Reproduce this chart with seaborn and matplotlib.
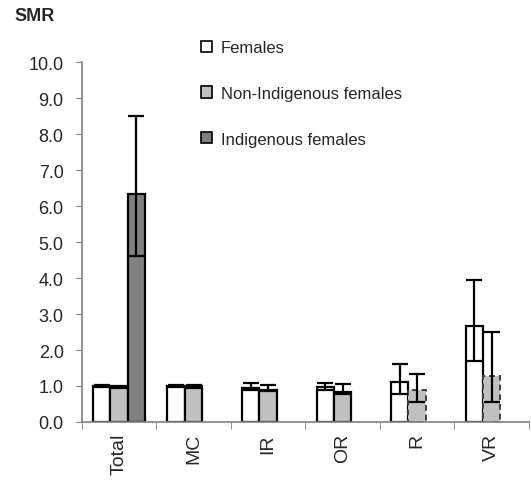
import numpy as np
import pandas as pd
import seaborn as sns
import matplotlib.pyplot as plt
from matplotlib.patches import Patch
from matplotlib.ticker import FixedLocator
from matplotlib.container import BarContainer

# data
cats = ['Total', 'MC', 'IR', 'OR', 'R', 'VR']
groups = ['Females', 'Non-Indigenous females', 'Indigenous females']

females = [1.00, 1.00, 0.94, 0.96, 1.12, 2.67]
fem_lo = [0.96, 0.96, 0.90, 0.90, 0.78, 1.70]
fem_hi = [1.04, 1.04, 1.07, 1.09, 1.61, 3.95]

nonind = [0.98, 0.99, 0.90, 0.84, 0.89, 1.27]
non_lo = [0.95, 0.95, 0.86, 0.78, 0.56, 0.56]
non_hi = [1.01, 1.03, 1.04, 1.05, 1.33, 2.49]

indig = [6.33, np.nan, np.nan, np.nan, np.nan, np.nan]
ind_lo = [4.60, np.nan, np.nan, np.nan, np.nan, np.nan]
ind_hi = [8.50, np.nan, np.nan, np.nan, np.nan, np.nan]

colors = ['#FFFFFF', '#C0C0C0', '#808080']

df = pd.DataFrame({
    'cat': cats * 3,
    'group': [g for g in groups for _ in cats],
    'smr': females + nonind + indig,
})
lows = [fem_lo, non_lo, ind_lo]
highs = [fem_hi, non_hi, ind_hi]
vals = [females, nonind, indig]

sns.set_style('white')
plt.rcParams['font.family'] = ['Liberation Sans', 'DejaVu Sans']

fig = plt.figure(figsize=(5.31, 4.89), dpi=100)
ax = fig.add_axes([0.154, 0.135, 0.842, 0.736])

sns.barplot(data=df, x='cat', y='smr', hue='group', order=cats, hue_order=groups,
            palette=colors, width=0.7, errorbar=None, edgecolor='black',
            linewidth=1.6, legend=False, ax=ax)

# error bars + dashed outline on the small-count non-indigenous bars
bar_conts = [c for c in ax.containers if isinstance(c, BarContainer)]
for gi, cont in enumerate(bar_conts):
    for bar in cont.patches:
        if bar is None:
            continue
        xc = bar.get_x() + bar.get_width() / 2
        ci = int(round(xc))
        v = vals[gi][ci]
        if np.isnan(v):
            continue
        if gi == 1 and cats[ci] in ('R', 'VR'):
            bar.set_edgecolor('#404040')
            bar.set_linestyle((0, (3, 2)))
            bar.set_linewidth(1.4)
        ax.errorbar(xc, v, yerr=[[v - lows[gi][ci]], [highs[gi][ci] - v]],
                    fmt='none', ecolor='black', elinewidth=1.6, capsize=5.5,
                    capthick=1.6, zorder=5)

ax.set_ylim(0, 10)
ax.set_xlim(-0.5, 5.5)
ax.set_yticks(np.arange(0, 10.5, 1))
ax.set_yticklabels([f'{t:.1f}' for t in np.arange(0, 10.5, 1)], fontsize=13)
ax.set_xticks(range(len(cats)))
ax.set_xticklabels(cats, rotation=90, fontsize=14)
ax.tick_params(axis='x', which='major', length=0, pad=8)
ax.xaxis.set_minor_locator(FixedLocator(np.arange(-0.5, 6, 1)))
ax.tick_params(axis='x', which='minor', length=5, direction='out', color='#808080', bottom=True)
ax.tick_params(axis='y', length=4, direction='out', color='#808080', left=True, pad=9)
ax.set_xlabel('')
ax.set_ylabel('')
for s in ['top', 'right']:
    ax.spines[s].set_visible(False)
for s in ['left', 'bottom']:
    ax.spines[s].set_color('#808080')
    ax.spines[s].set_linewidth(1.2)

fig.text(0.028, 0.966, 'SMR', fontsize=13, fontweight='bold', va='center')

handles = [Patch(facecolor=c, edgecolor='black', linewidth=1.2) for c in colors]
fig.legend(handles, groups, loc='upper left', bbox_to_anchor=(0.356, 0.94),
           frameon=False, fontsize=12, labelspacing=1.85, handlelength=0.65,
           handleheight=0.65, handletextpad=0.55, borderpad=0.2)

fig.savefig('out.png', dpi=100)
